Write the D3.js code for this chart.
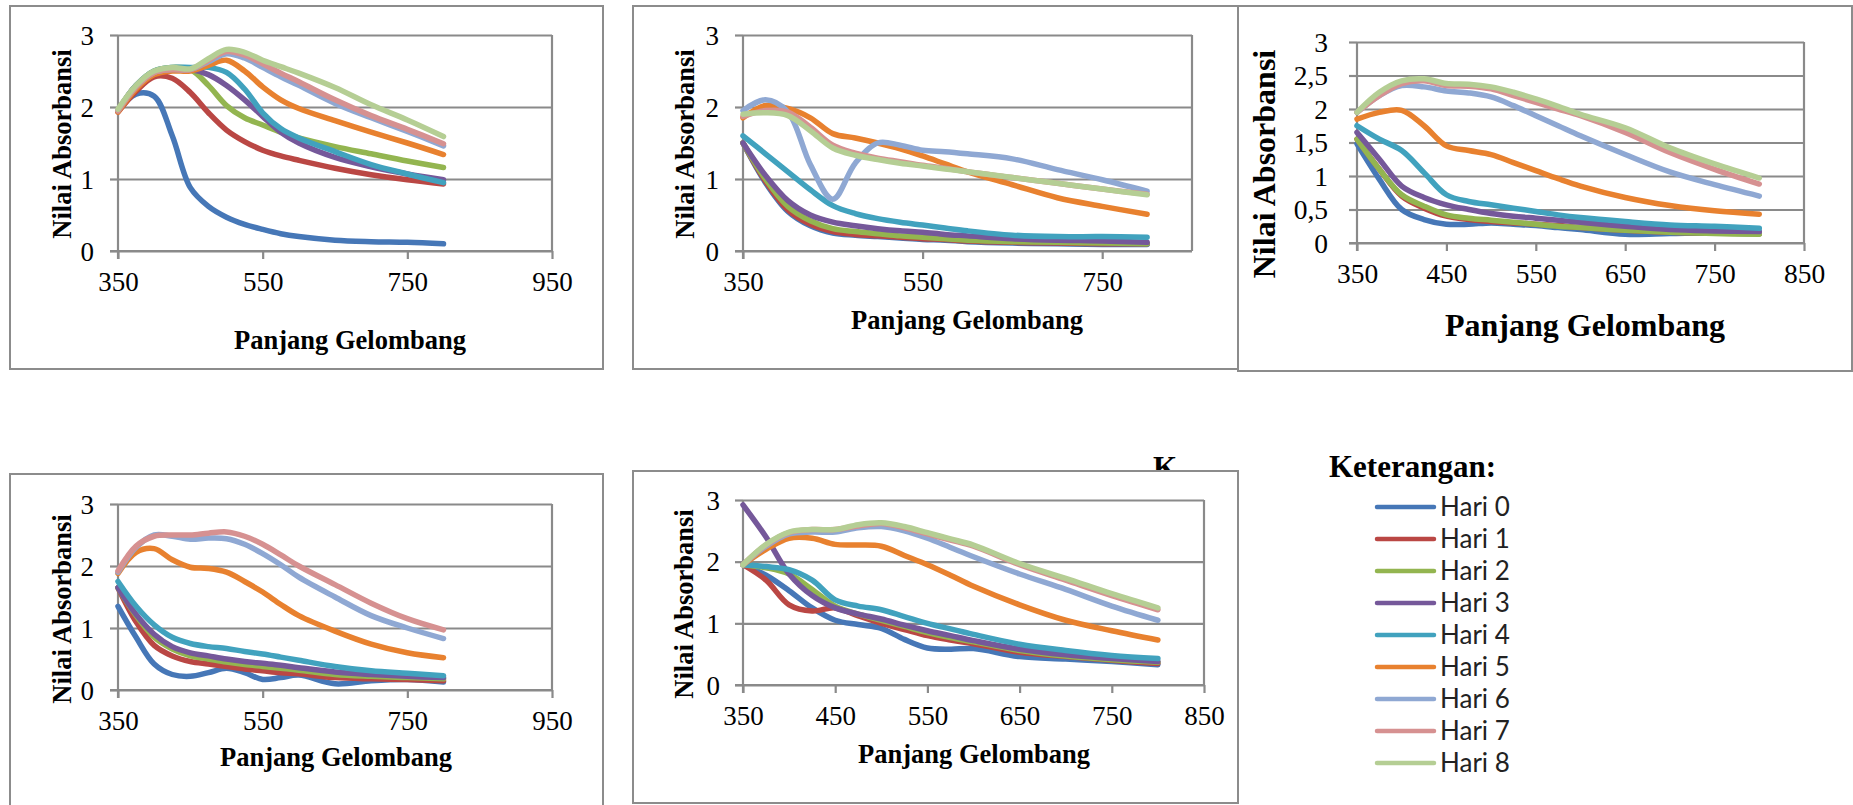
<!DOCTYPE html>
<html>
<head>
<meta charset="utf-8">
<script src="https://cdn.jsdelivr.net/npm/d3@7"></script>
<style>
  html, body { margin: 0; padding: 0; background: #fff; }
  svg { display: block; }
</style>
</head>
<body>
<svg id="chart" width="1853" height="805"></svg>
<script>
var wavelengths = [350, 375, 400, 425, 450, 475, 500, 525, 550, 575, 600, 650, 700, 750, 800];

var seriesNames = ["Hari 0", "Hari 1", "Hari 2", "Hari 3", "Hari 4", "Hari 5", "Hari 6", "Hari 7", "Hari 8"];
var seriesColors = ["#4677B7", "#BA4744", "#93B550", "#75589A", "#41A2BE", "#E8812F", "#8FA8D3", "#D69191", "#B5CE94"];

// absorbance values, one row per day (Hari 0 .. Hari 8)
var chart1 = [
  [1.95, 2.18, 2.15, 1.60, 0.88, 0.62, 0.47, 0.37, 0.30, 0.24, 0.20, 0.15, 0.13, 0.12, 0.10],
  [1.93, 2.22, 2.42, 2.40, 2.20, 1.92, 1.68, 1.52, 1.40, 1.32, 1.26, 1.15, 1.06, 0.99, 0.93],
  [1.95, 2.30, 2.50, 2.55, 2.52, 2.30, 2.02, 1.85, 1.75, 1.65, 1.57, 1.45, 1.35, 1.25, 1.16],
  [1.95, 2.30, 2.48, 2.52, 2.52, 2.45, 2.30, 2.10, 1.87, 1.65, 1.50, 1.30, 1.17, 1.07, 0.99],
  [1.95, 2.30, 2.50, 2.55, 2.55, 2.55, 2.48, 2.25, 1.92, 1.70, 1.57, 1.38, 1.20, 1.07, 0.95],
  [1.93, 2.25, 2.45, 2.50, 2.50, 2.58, 2.65, 2.50, 2.28, 2.10, 1.98, 1.81, 1.65, 1.50, 1.34],
  [1.95, 2.28, 2.48, 2.52, 2.52, 2.63, 2.74, 2.68, 2.55, 2.42, 2.30, 2.05, 1.85, 1.66, 1.46],
  [1.95, 2.28, 2.48, 2.52, 2.52, 2.65, 2.77, 2.72, 2.60, 2.47, 2.35, 2.10, 1.88, 1.69, 1.49],
  [1.97, 2.30, 2.50, 2.55, 2.53, 2.67, 2.80, 2.76, 2.65, 2.56, 2.47, 2.27, 2.03, 1.82, 1.59]
];
var chart2 = [
  [1.50, 0.95, 0.55, 0.35, 0.25, 0.22, 0.20, 0.18, 0.16, 0.15, 0.13, 0.11, 0.10, 0.09, 0.09],
  [1.50, 0.97, 0.57, 0.37, 0.27, 0.23, 0.21, 0.19, 0.17, 0.16, 0.14, 0.12, 0.11, 0.10, 0.10],
  [1.50, 1.00, 0.62, 0.42, 0.31, 0.27, 0.24, 0.21, 0.19, 0.17, 0.15, 0.13, 0.12, 0.11, 0.10],
  [1.50, 1.05, 0.70, 0.50, 0.40, 0.35, 0.31, 0.28, 0.26, 0.23, 0.21, 0.17, 0.15, 0.14, 0.12],
  [1.60, 1.35, 1.10, 0.85, 0.63, 0.52, 0.45, 0.40, 0.36, 0.32, 0.28, 0.22, 0.20, 0.20, 0.19],
  [1.85, 2.02, 1.98, 1.85, 1.63, 1.57, 1.50, 1.42, 1.32, 1.21, 1.10, 0.92, 0.74, 0.62, 0.51],
  [1.95, 2.10, 1.93, 1.20, 0.72, 1.22, 1.50, 1.47, 1.40, 1.38, 1.35, 1.28, 1.13, 0.99, 0.83],
  [1.87, 1.95, 1.93, 1.72, 1.47, 1.36, 1.29, 1.24, 1.19, 1.15, 1.10, 1.02, 0.94, 0.86, 0.79],
  [1.90, 1.92, 1.88, 1.67, 1.43, 1.33, 1.27, 1.22, 1.18, 1.14, 1.10, 1.02, 0.94, 0.86, 0.78]
];
var chart3 = [
  [1.48, 0.95, 0.50, 0.35, 0.28, 0.28, 0.30, 0.28, 0.26, 0.23, 0.20, 0.13, 0.14, 0.15, 0.14],
  [1.55, 1.10, 0.70, 0.52, 0.40, 0.35, 0.32, 0.30, 0.28, 0.26, 0.23, 0.19, 0.16, 0.15, 0.14],
  [1.55, 1.10, 0.72, 0.55, 0.42, 0.37, 0.34, 0.31, 0.28, 0.25, 0.23, 0.19, 0.16, 0.14, 0.13],
  [1.65, 1.25, 0.85, 0.68, 0.57, 0.50, 0.44, 0.40, 0.37, 0.34, 0.31, 0.25, 0.20, 0.18, 0.17],
  [1.75, 1.55, 1.38, 1.05, 0.72, 0.62, 0.57, 0.52, 0.47, 0.42, 0.38, 0.32, 0.27, 0.25, 0.22],
  [1.85, 1.95, 1.98, 1.75, 1.45, 1.38, 1.32, 1.20, 1.08, 0.96, 0.85, 0.68, 0.56, 0.48, 0.43],
  [1.95, 2.20, 2.35, 2.33, 2.27, 2.24, 2.18, 2.05, 1.90, 1.75, 1.60, 1.32, 1.06, 0.87, 0.70],
  [1.95, 2.20, 2.38, 2.42, 2.35, 2.34, 2.30, 2.20, 2.10, 2.00, 1.90, 1.65, 1.35, 1.10, 0.88],
  [1.95, 2.25, 2.42, 2.45, 2.38, 2.37, 2.33, 2.25, 2.15, 2.04, 1.92, 1.72, 1.42, 1.18, 0.97]
];
// chart 4 has no Hari 8 curve
var chart4 = [
  [1.35, 0.85, 0.42, 0.25, 0.22, 0.28, 0.35, 0.28, 0.17, 0.20, 0.24, 0.10, 0.15, 0.17, 0.13],
  [1.65, 1.10, 0.72, 0.55, 0.46, 0.42, 0.38, 0.34, 0.31, 0.28, 0.26, 0.20, 0.18, 0.17, 0.15],
  [1.65, 1.20, 0.85, 0.66, 0.55, 0.50, 0.45, 0.41, 0.38, 0.35, 0.32, 0.25, 0.22, 0.20, 0.18],
  [1.65, 1.22, 0.90, 0.70, 0.60, 0.55, 0.50, 0.46, 0.43, 0.40, 0.36, 0.29, 0.25, 0.22, 0.20],
  [1.75, 1.35, 1.05, 0.85, 0.75, 0.70, 0.67, 0.62, 0.58, 0.53, 0.48, 0.38, 0.31, 0.27, 0.23],
  [1.88, 2.22, 2.28, 2.10, 1.98, 1.96, 1.90, 1.75, 1.58, 1.38, 1.20, 0.95, 0.74, 0.60, 0.52],
  [1.90, 2.30, 2.50, 2.48, 2.43, 2.45, 2.44, 2.35, 2.20, 2.02, 1.82, 1.50, 1.20, 1.00, 0.83],
  [1.92, 2.32, 2.48, 2.50, 2.50, 2.53, 2.55, 2.48, 2.35, 2.18, 2.00, 1.70, 1.40, 1.15, 0.97]
];
var chart5 = [
  [1.95, 1.78, 1.53, 1.25, 1.05, 0.98, 0.92, 0.74, 0.60, 0.58, 0.59, 0.46, 0.42, 0.38, 0.33],
  [1.95, 1.70, 1.30, 1.20, 1.25, 1.12, 1.00, 0.90, 0.80, 0.73, 0.67, 0.53, 0.46, 0.40, 0.35],
  [1.95, 1.90, 1.80, 1.55, 1.28, 1.15, 1.05, 0.95, 0.85, 0.77, 0.70, 0.56, 0.47, 0.41, 0.37],
  [2.92, 2.40, 1.80, 1.45, 1.25, 1.15, 1.07, 0.97, 0.88, 0.80, 0.72, 0.58, 0.49, 0.43, 0.38],
  [1.95, 1.92, 1.87, 1.70, 1.38, 1.28, 1.22, 1.11, 1.00, 0.91, 0.82, 0.66, 0.56, 0.48, 0.43],
  [1.95, 2.20, 2.38, 2.38, 2.28, 2.27, 2.25, 2.10, 1.95, 1.78, 1.60, 1.30, 1.05, 0.88, 0.73],
  [1.95, 2.25, 2.45, 2.48, 2.48, 2.55, 2.57, 2.50, 2.38, 2.23, 2.08, 1.80, 1.55, 1.28, 1.05],
  [1.95, 2.27, 2.47, 2.52, 2.52, 2.58, 2.62, 2.55, 2.45, 2.35, 2.25, 1.95, 1.70, 1.45, 1.22],
  [1.95, 2.28, 2.48, 2.52, 2.52, 2.60, 2.63, 2.57, 2.47, 2.37, 2.27, 1.97, 1.73, 1.48, 1.25]
];

// tick values
var xTicks950 = [350, 550, 750, 950];
var xTicks750 = [350, 550, 750];
var xTicks850 = [350, 450, 550, 650, 750, 850];
var yTicksWhole = [0, 1, 2, 3];
var yTicksHalf = [0, 0.5, 1, 1.5, 2, 2.5, 3];

var xTitle = "Panjang Gelombang";
var yTitle = "Nilai Absorbansi";

// where each small chart sits on the page
var panels = [
  { data: chart1, box: [10, 6, 603, 369], plot: { l: 118, r: 552, t: 35, b: 251 }, xDomain: [350, 950], xTicks: xTicks950, yTicks: yTicksWhole,
    tickSize: 27, labelGap: 24, titleSize: 26.5, xt: [350, 349], yt: [71, 144] },
  { data: chart2, box: [633, 6, 1243, 369], plot: { l: 743, r: 1192, t: 35, b: 251 }, xDomain: [350, 850], xTicks: xTicks750, yTicks: yTicksWhole,
    tickSize: 27, labelGap: 24, titleSize: 26.5, xt: [967, 329], yt: [694, 144] },
  { data: chart3, box: [1238, 6, 1852, 371], plot: { l: 1357, r: 1804, t: 42, b: 243 }, xDomain: [350, 850], xTicks: xTicks850, yTicks: yTicksHalf,
    tickSize: 27.5, labelGap: 29, titleSize: 32, xt: [1585, 336], yt: [1275, 164] },
  { data: chart4, box: [10, 474, 603, 812], plot: { l: 118, r: 552, t: 504, b: 690 }, xDomain: [350, 950], xTicks: xTicks950, yTicks: yTicksWhole,
    tickSize: 27, labelGap: 24, titleSize: 26.5, xt: [336, 766], yt: [71, 609] },
  { data: chart5, box: [633, 471, 1238, 803], plot: { l: 743, r: 1204, t: 500, b: 685 }, xDomain: [350, 850], xTicks: xTicks850, yTicks: yTicksWhole,
    tickSize: 27, labelGap: 23, titleSize: 26.5, xt: [974, 763], yt: [693, 604] }
];

var svg = d3.select("#chart");
var gridColor = "#8a8a8a";
var serif = "'Liberation Serif', 'Times New Roman', serif";

// stray heading letter that sits behind chart 5
svg.append("text")
  .attr("x", 1153).attr("y", 478)
  .attr("font-family", serif).attr("font-weight", "bold").attr("font-size", 31)
  .text("K");

function commaFormat(d) { return String(d).replace(".", ","); }

function drawPanel(p) {
  var g = svg.append("g");

  g.append("rect")
    .attr("x", p.box[0]).attr("y", p.box[1])
    .attr("width", p.box[2] - p.box[0]).attr("height", p.box[3] - p.box[1])
    .attr("fill", "#fff").attr("stroke", "#8c8c8c").attr("stroke-width", 2);

  var x = d3.scaleLinear().domain(p.xDomain).range([p.plot.l, p.plot.r]);
  var y = d3.scaleLinear().domain([0, 3]).range([p.plot.b, p.plot.t]);

  // horizontal gridlines
  var grid = g.append("g")
    .attr("transform", "translate(" + p.plot.l + ",0)")
    .call(d3.axisLeft(y).tickValues(p.yTicks).tickSize(-(p.plot.r - p.plot.l)).tickFormat(""));
  grid.select(".domain").remove();
  grid.selectAll("line").attr("stroke", gridColor).attr("stroke-width", 2.2);

  // right border of the plot area
  g.append("line")
    .attr("x1", p.plot.r).attr("x2", p.plot.r)
    .attr("y1", p.plot.t).attr("y2", p.plot.b)
    .attr("stroke", gridColor).attr("stroke-width", 2.2);

  // y axis
  var yAxis = g.append("g")
    .attr("transform", "translate(" + p.plot.l + ",0)")
    .call(d3.axisLeft(y).tickValues(p.yTicks).tickSize(8).tickSizeOuter(0).tickFormat(commaFormat));
  yAxis.select(".domain").attr("stroke", gridColor).attr("stroke-width", 2.2)
    .attr("d", "M0," + (p.plot.b + 8) + "V" + p.plot.t);
  yAxis.selectAll("line").attr("stroke", gridColor).attr("stroke-width", 2.2);
  yAxis.selectAll("text")
    .attr("x", -p.labelGap).attr("dy", "0.34em")
    .attr("font-family", serif).attr("font-size", p.tickSize).attr("fill", "#000");

  // x axis
  var xAxis = g.append("g")
    .attr("transform", "translate(0," + p.plot.b + ")")
    .call(d3.axisBottom(x).tickValues(p.xTicks).tickSize(8).tickSizeOuter(0));
  xAxis.select(".domain").attr("stroke", gridColor).attr("stroke-width", 2.2)
    .attr("d", "M" + (p.plot.l - 8) + ",0H" + p.plot.r);
  xAxis.selectAll("line").attr("stroke", gridColor).attr("stroke-width", 2.2);
  xAxis.selectAll("text")
    .attr("y", 40).attr("dy", 0)
    .attr("font-family", serif).attr("font-size", p.tickSize).attr("fill", "#000");

  // curves
  var line = d3.line()
    .x(function(d, i) { return x(wavelengths[i]); })
    .y(function(d) { return y(d); })
    .curve(d3.curveCatmullRom.alpha(0.5));

  g.selectAll(".curve")
    .data(p.data)
    .enter()
    .append("path")
    .attr("class", "curve")
    .attr("d", line)
    .attr("fill", "none")
    .attr("stroke", function(d, i) { return seriesColors[i]; })
    .attr("stroke-width", 5.5)
    .attr("stroke-linecap", "round")
    .attr("stroke-linejoin", "round");

  // axis titles
  g.append("text")
    .attr("x", p.xt[0]).attr("y", p.xt[1])
    .attr("text-anchor", "middle")
    .attr("font-family", serif).attr("font-weight", "bold").attr("font-size", p.titleSize)
    .text(xTitle);

  g.append("text")
    .attr("transform", "translate(" + p.yt[0] + "," + p.yt[1] + ") rotate(-90)")
    .attr("text-anchor", "middle")
    .attr("font-family", serif).attr("font-weight", "bold").attr("font-size", p.titleSize)
    .text(yTitle);
}

panels.forEach(drawPanel);

// legend
var legend = svg.append("g");

legend.append("text")
  .attr("x", 1329).attr("y", 477)
  .attr("font-family", serif).attr("font-weight", "bold").attr("font-size", 31)
  .text("Keterangan:");

var rows = legend.selectAll(".row")
  .data(seriesNames)
  .enter()
  .append("g")
  .attr("class", "row")
  .attr("transform", function(d, i) { return "translate(0," + (507 + i * 32) + ")"; });

rows.append("line")
  .attr("x1", 1377).attr("x2", 1434)
  .attr("stroke", function(d, i) { return seriesColors[i]; })
  .attr("stroke-width", 4.5)
  .attr("stroke-linecap", "round");

rows.append("text")
  .attr("x", 1440).attr("dy", "0.36em")
  .attr("font-family", "Lato, sans-serif").attr("font-size", 26).attr("fill", "#222")
  .text(function(d) { return d; });
</script>
</body>
</html>
